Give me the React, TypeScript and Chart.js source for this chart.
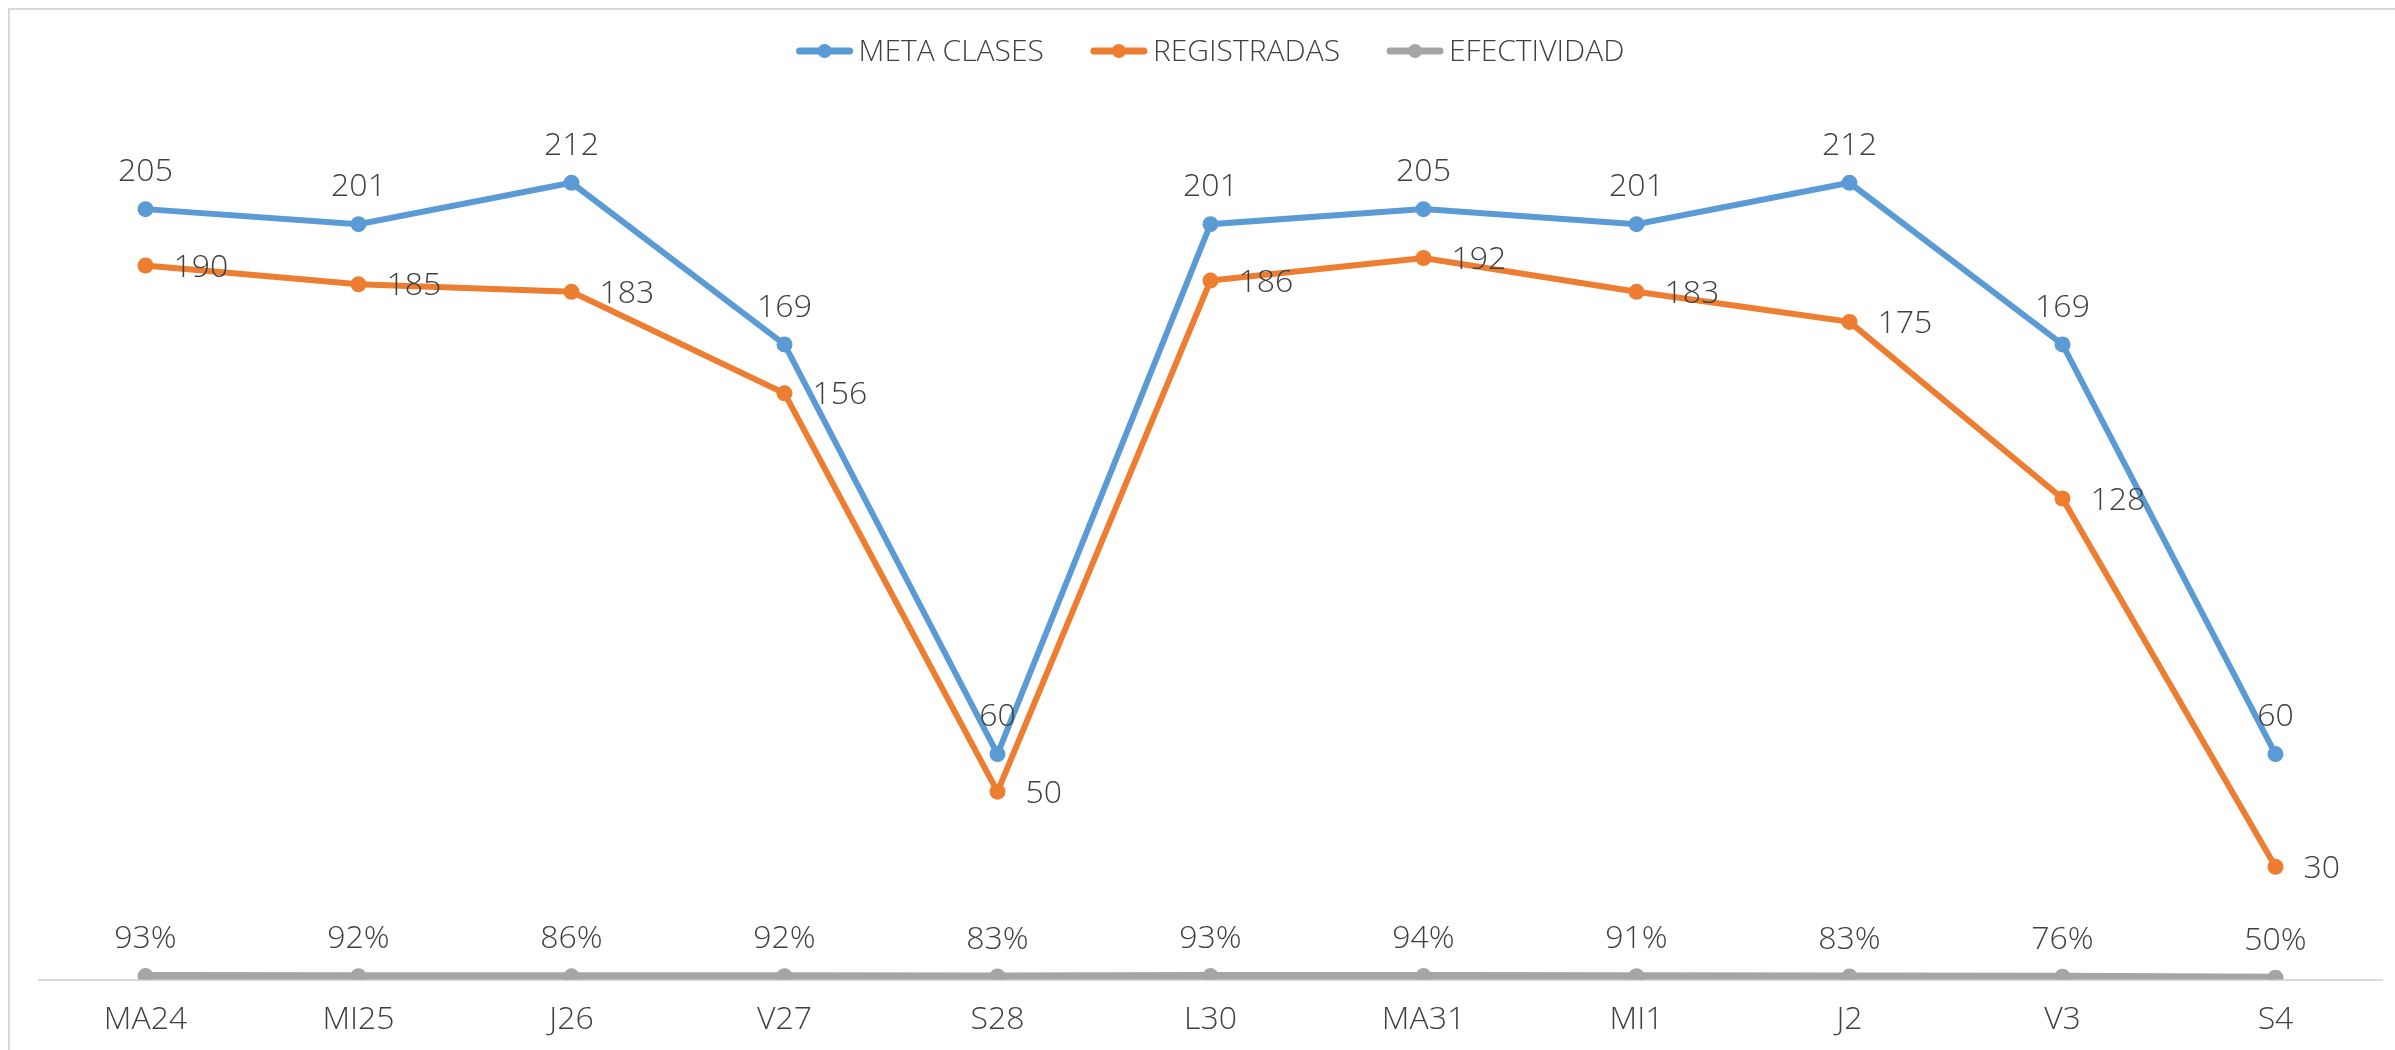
import React, { useEffect, useRef } from "react";
import { Chart, registerables } from "chart.js";

Chart.register(...registerables);

const categories = ["MA24", "MI25", "J26", "V27", "S28", "L30", "MA31", "MI1", "J2", "V3", "S4"];
const metaClases = [205, 201, 212, 169, 60, 201, 205, 201, 212, 169, 60];
const registradas = [190, 185, 183, 156, 50, 186, 192, 183, 175, 128, 30];
const efectividad = [0.93, 0.92, 0.86, 0.92, 0.83, 0.93, 0.94, 0.91, 0.83, 0.76, 0.5];
const seriesNames = ["META CLASES", "REGISTRADAS", "EFECTIVIDAD"];
const seriesColors = ["#5B9BD5", "#ED7D31", "#A5A5A5"];

const FONT = '"Open Sans", "DejaVu Sans", sans-serif';
const TEXT_COLOR = "#404040";

const labelsPlugin = {
  id: "valueLabels",
  afterDatasetsDraw(chart: any) {
    const ctx = chart.ctx;
    ctx.save();
    ctx.fillStyle = TEXT_COLOR;
    ctx.font = `300 32px ${FONT}`;
    chart.data.datasets.forEach((ds: any, di: number) => {
      const meta = chart.getDatasetMeta(di);
      meta.data.forEach((pt: any, i: number) => {
        const v = ds.data[i];
        if (di === 0) {
          ctx.textAlign = "center";
          ctx.textBaseline = "middle";
          ctx.fillText(String(v), pt.x, pt.y - 37);
        } else if (di === 1) {
          ctx.textAlign = "left";
          ctx.textBaseline = "middle";
          ctx.fillText(String(v), pt.x + 28, pt.y + 2);
        } else {
          ctx.textAlign = "center";
          ctx.textBaseline = "middle";
          ctx.fillText(Math.round(v * 100) + "%", pt.x, pt.y - 37);
        }
      });
    });
    ctx.restore();
  },
  afterDraw(chart: any) {
    const ctx = chart.ctx;
    const area = chart.chartArea;
    ctx.save();
    ctx.font = `300 30px ${FONT}`;
    const markerW = 56;
    const gapText = 6;
    const gapItem = 47;
    const widths = seriesNames.map((n) => ctx.measureText(n).width);
    const total =
      widths.reduce((a: number, w: number) => a + w + markerW + gapText, 0) + gapItem * (seriesNames.length - 1);
    let x = (area.left + area.right) / 2 - total / 2;
    const y = 51;
    seriesNames.forEach((n, i) => {
      ctx.strokeStyle = seriesColors[i];
      ctx.lineWidth = 7;
      ctx.lineCap = "round";
      ctx.beginPath();
      ctx.moveTo(x + 3, y);
      ctx.lineTo(x + markerW - 3, y);
      ctx.stroke();
      ctx.fillStyle = seriesColors[i];
      ctx.beginPath();
      ctx.arc(x + markerW / 2, y, 7, 0, Math.PI * 2);
      ctx.fill();
      ctx.fillStyle = TEXT_COLOR;
      ctx.textAlign = "left";
      ctx.textBaseline = "middle";
      ctx.fillText(n, x + markerW + gapText, y + 1);
      x += markerW + gapText + widths[i] + gapItem;
    });
    ctx.restore();
  },
};

export default function App() {
  const canvasRef = useRef<HTMLCanvasElement | null>(null);

  useEffect(() => {
    if (!canvasRef.current) return;
    const mk = (label: string, data: number[], color: string, width: number) => ({
      label,
      data,
      borderColor: color,
      backgroundColor: color,
      borderWidth: width,
      pointRadius: 8,
      pointHoverRadius: 8,
      pointBackgroundColor: color,
      pointBorderColor: color,
      pointBorderWidth: 0,
      tension: 0,
      fill: false,
    });
    const chart = new Chart(canvasRef.current, {
      type: "line",
      data: {
        labels: categories,
        datasets: [
          mk(seriesNames[0], metaClases, seriesColors[0], 6),
          mk(seriesNames[1], registradas, seriesColors[1], 6),
          mk(seriesNames[2], efectividad, seriesColors[2], 8),
        ],
      },
      options: {
        animation: false,
        responsive: false,
        maintainAspectRatio: false,
        layout: { padding: { left: 39, right: 13, top: 40, bottom: -10 } },
        plugins: {
          legend: { display: false },
          tooltip: { enabled: false },
        },
        scales: {
          x: {
            offset: true,
            grid: { display: false, drawTicks: false },
            border: { display: true, color: "#D9D9D9", width: 2 },
            ticks: {
              padding: 21,
              color: TEXT_COLOR,
              font: { family: FONT, size: 32, weight: "300" as any },
            },
          },
          y: {
            display: false,
            min: 0,
            max: 250,
          },
        },
      },
      plugins: [labelsPlugin],
    });
    return () => chart.destroy();
  }, []);

  return (
    <div
      style={{
        position: "fixed",
        left: 0,
        top: 0,
        width: 2395,
        height: 1050,
        overflow: "hidden",
        background: "#ffffff",
      }}
    >
      <div
        style={{
          position: "absolute",
          left: 8,
          top: 8,
          width: 2500,
          height: 1200,
          border: "2px solid #D9D9D9",
          boxSizing: "border-box",
        }}
      />
      <canvas
        ref={canvasRef}
        width={2395}
        height={1050}
        style={{ position: "absolute", left: 0, top: 0, width: 2395, height: 1050 }}
      />
    </div>
  );
}
